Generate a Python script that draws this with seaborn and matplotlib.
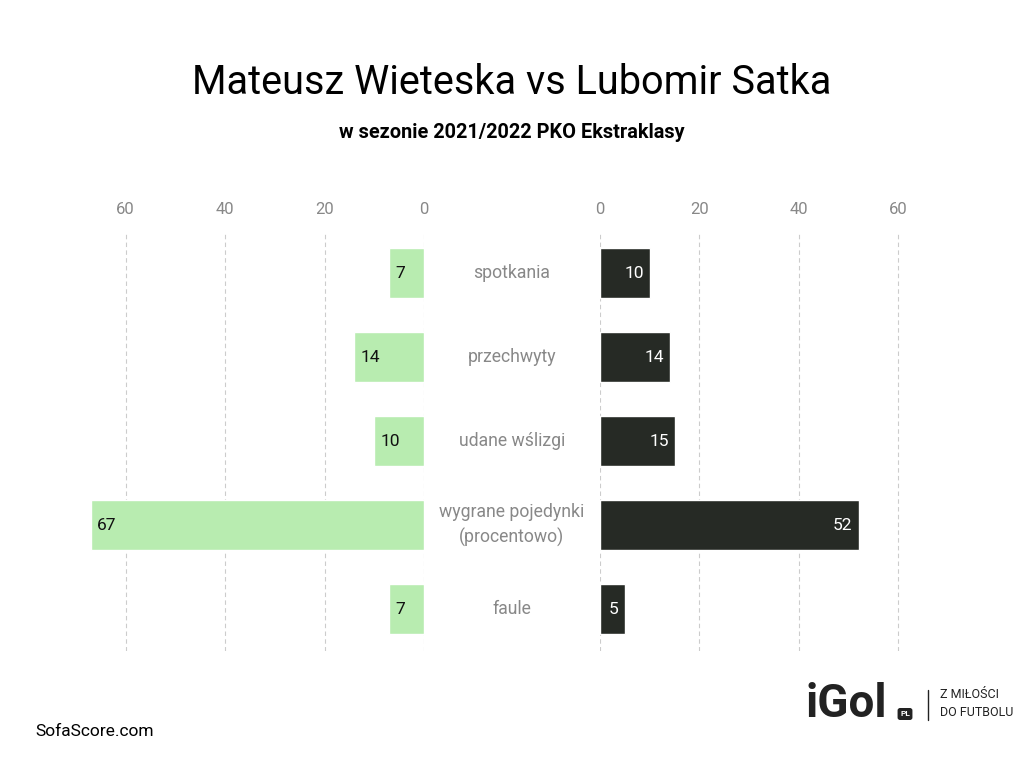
import matplotlib
matplotlib.use("Agg")
import matplotlib.pyplot as plt
import seaborn as sns
import pandas as pd

categories = ["spotkania", "przechwyty", "udane wślizgi", "wygrane pojedynki\n(procentowo)", "faule"]
wieteska = [7, 14, 10, 67, 7]
satka = [10, 14, 15, 52, 5]
ticks = [0, 20, 40, 60]

sns.set_theme(style="white")
plt.rcParams['font.family'] = ['Roboto', 'DejaVu Sans']

fig = plt.figure(figsize=(10.24, 7.68), dpi=100)
b, h = 1 - 651/768, 420/768
axL = fig.add_axes([76/1024, b, 348/1024, h])
axR = fig.add_axes([600/1024, b, 348/1024, h])

df = pd.DataFrame({"cat": categories, "W": wieteska, "S": satka})
green, dark = "#b8ecb0", "#262a25"
sns.barplot(data=df, y="cat", x="W", ax=axL, color=green, width=0.6, saturation=1, orient="h")
sns.barplot(data=df, y="cat", x="S", ax=axR, color=dark, width=0.6, saturation=1, orient="h")

for ax in (axL, axR):
    ax.set_xlim(0, 70)
    ax.set_ylim(4.5, -0.5)
    ax.set_xticks(ticks)
    ax.xaxis.tick_top()
    ax.tick_params(axis="x", length=0, labelsize=12, labelcolor="#888888", pad=10)
    ax.set_yticks([])
    ax.set_xlabel(""); ax.set_ylabel("")
    for s in ax.spines.values():
        s.set_visible(False)
    ax.grid(axis="x", color="#cccccc", linestyle=(0, (4, 3)), linewidth=0.8)
    ax.set_axisbelow(True)
axL.invert_xaxis()

for i, (w, s) in enumerate(zip(wieteska, satka)):
    axL.text(w - 1.2, i, str(w), ha="left", va="center", fontsize=12.5, color="#111111")
    axR.text(s - 1.2, i, str(s), ha="right", va="center", fontsize=12.5, color="white")
    fig.text(512/1024, 1 - (273 + 84*i)/768, categories[i], ha="center", va="center",
             fontsize=12.7, color="#888888", linespacing=1.4)

fig.text(0.5, 1 - 83/768, "Mateusz Wieteska vs Lubomir Satka", ha="center", va="center", fontsize=28.5, color="black")
fig.text(0.5, 1 - 133/768, "w sezonie 2021/2022 PKO Ekstraklasy", ha="center", va="center", fontsize=14.3, fontweight="bold", color="black")
fig.text(35/1024, 1 - 732/768, "SofaScore.com", ha="left", va="center", fontsize=12.5, color="black")
fig.text(806/1024, 1 - 704/768, "iGol", ha="left", va="center", fontsize=33, fontweight="bold", color="#222222")
fig.text(905/1024, 1 - 714/768, "PL", ha="center", va="center", fontsize=6, fontweight="bold", color="white",
         bbox=dict(boxstyle="round,pad=0.3", fc="#222222", ec="none"))
fig.text(940/1024, 1 - 704/768, "Z MIŁOŚCI\nDO FUTBOLU", ha="left", va="center", fontsize=9, color="#222222", linespacing=1.5)
fig.add_artist(plt.Line2D([928/1024, 928/1024], [1 - 690/768, 1 - 720/768], color="#222222", lw=1))

fig.savefig("out.png", dpi=100, facecolor="white")
